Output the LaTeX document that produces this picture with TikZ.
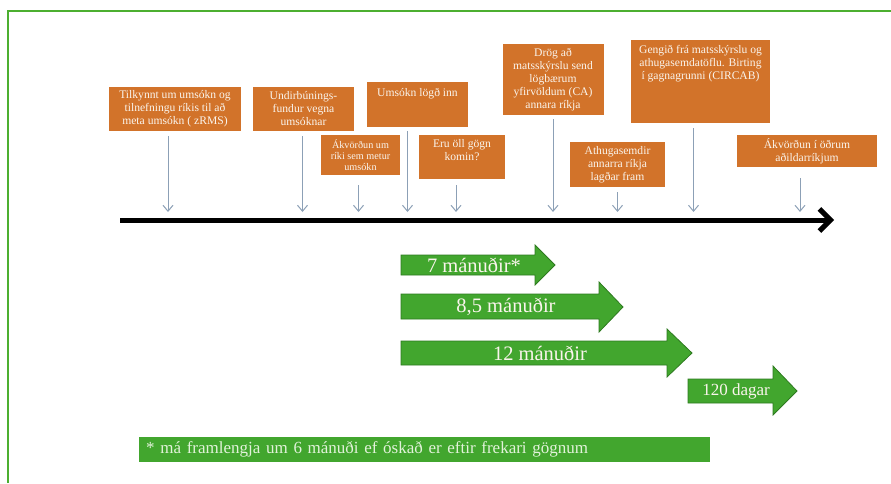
\documentclass[tikz,border=0pt]{standalone}
\usepackage{fontspec}
\setmainfont{Liberation Serif}
\usepackage{tikz}
\usetikzlibrary{arrows.meta}

\definecolor{boxorange}{RGB}{210,115,42}
\definecolor{framegreen}{RGB}{76,175,48}
\definecolor{arrowgreen}{RGB}{66,166,46}
\definecolor{arrowedge}{RGB}{46,122,32}
\definecolor{tickblue}{RGB}{140,160,182}
\definecolor{paletext}{RGB}{250,244,236}
\definecolor{notetext}{RGB}{226,242,218}

\tikzset{
  box/.style={fill=boxorange, text=paletext, align=center, inner sep=0pt,
    font=\fontsize{11.6}{13}\selectfont},
  boxtext/.style={text=paletext, align=center, inner sep=0pt, anchor=north,
    font=\fontsize{11.6}{13}\selectfont},
  tick/.style={tickblue, line width=1pt, -{Straight Barb[length=6pt,width=10pt]}},
  bigarrow/.style={fill=arrowgreen, draw=arrowedge, line width=0.8pt},
  bigtext/.style={text=paletext, font=\fontsize{20.5}{22}\selectfont}
}

\begin{document}
\begin{tikzpicture}[x=1pt,y=-1pt]
\useasboundingbox (0,0) rectangle (891,483);
\draw[framegreen, line width=2] (8,483) -- (8,11) -- (891,11);

% time line
\coordinate (t0) at (120,220);
\coordinate (t1) at (834,220);
\coordinate (ttop) at (0,212);
\draw[line width=5, -{Straight Barb[length=11pt,width=22pt]}] (t0) to (t1);

% steps
\node[box, minimum width=132pt, minimum height=44pt] (b1) at (175,109)
  {Tilkynnt um umsókn og\\tilnefningu ríkis til að\\meta umsókn ( zRMS)};
\node[box, minimum width=101pt, minimum height=44pt] (b2) at (303.5,109)
  {Undirbúnings-\\fundur vegna\\umsóknar};
\node[box, minimum width=101pt, minimum height=45pt] (b3) at (417.5,104.5) {};
\node[boxtext] at ([yshift=-6pt]b3.north) {Umsókn lögð inn};
\node[box, minimum width=79pt, minimum height=40pt,
  font=\fontsize{10.2}{11}\selectfont] (b4) at (360.5,155)
  {Ákvörðun um\\ríki sem metur\\umsókn};
\node[box, minimum width=86pt, minimum height=44pt] (b5) at (462,157) {};
\node[boxtext] at ([yshift=-4pt]b5.north) {Eru öll gögn\\komin?};
\node[box, minimum width=101pt, minimum height=71pt] (b6) at (553,79.5)
  {Drög að\\matsskýrslu send\\lögbærum\\yfirvöldum (CA)\\annara ríkja};
\node[box, minimum width=139pt, minimum height=83pt] (b7) at (700.5,81.5) {};
\node[boxtext] at ([yshift=-5pt]b7.north)
  {Gengið frá matsskýrslu og\\athugasemdatöflu. Birting\\í gagnagrunni (CIRCAB)};
\node[box, minimum width=95pt, minimum height=45pt] (b8) at (617.5,164.5)
  {Athugasemdir\\annarra ríkja\\lagðar fram};
\node[box, minimum width=140pt, minimum height=32pt] (b9) at (807,151)
  {Ákvörðun í öðrum\\aðildarríkjum};

% pointers to the time line
\draw[tick] ([xshift=-7pt,yshift=-5pt]b1.south) -- ([xshift=-7pt]b1.south |- ttop);
\draw[tick] ([xshift=-1pt,yshift=-5pt]b2.south) -- ([xshift=-1pt]b2.south |- ttop);
\draw[tick] ([xshift=-10pt,yshift=-4pt]b3.south) -- ([xshift=-10pt]b3.south |- ttop);
\draw[tick] ([xshift=-2pt,yshift=-10pt]b4.south) -- ([xshift=-2pt]b4.south |- ttop);
\draw[tick] ([xshift=-6pt,yshift=-6pt]b5.south) -- ([xshift=-6pt]b5.south |- ttop);
\draw[tick] ([yshift=-4pt]b6.south) -- (b6.south |- ttop);
\draw[tick] ([xshift=-7pt,yshift=-5pt]b7.south) -- ([xshift=-7pt]b7.south |- ttop);
\draw[tick] ([yshift=-5pt]b8.south) -- (b8.south |- ttop);
\draw[tick] ([xshift=-7pt,yshift=-11pt]b9.south) -- ([xshift=-7pt]b9.south |- ttop);

% durations
\draw[bigarrow] (401,255) -- (535,255) -- (535,245) -- (555,265) -- (535,285)
  -- (535,275) -- (401,275) -- cycle;
\node[bigtext] (g1) at (474,265) {7 mánuðir*};
\draw[bigarrow] (401,294) -- (599,294) -- (599,282) -- (623,307) -- (599,332)
  -- (599,319) -- (401,319) -- cycle;
\node[bigtext] (g2) at (506,307) {8,5 mánuðir};
\draw[bigarrow] (401,341) -- (667,341) -- (667,329) -- (692,353) -- (667,377)
  -- (667,365) -- (401,365) -- cycle;
\node[bigtext] (g3) at (540,353) {12 mánuðir};
\draw[bigarrow] (688,379) -- (773,379) -- (773,366) -- (797,391) -- (773,415)
  -- (773,403) -- (688,403) -- cycle;
\node[bigtext, font=\fontsize{17}{19}\selectfont] (g4) at (736,391) {120 dagar};

% footnote
\node[fill=arrowgreen, text=notetext, anchor=north west, inner sep=0pt,
  minimum height=25pt, text width=557pt, align=left, inner xsep=7pt,
  font=\fontsize{17}{19}\selectfont] (note) at (139,437)
  {* má framlengja um 6 mánuði ef óskað er eftir frekari gögnum};

\end{tikzpicture}
\end{document}
